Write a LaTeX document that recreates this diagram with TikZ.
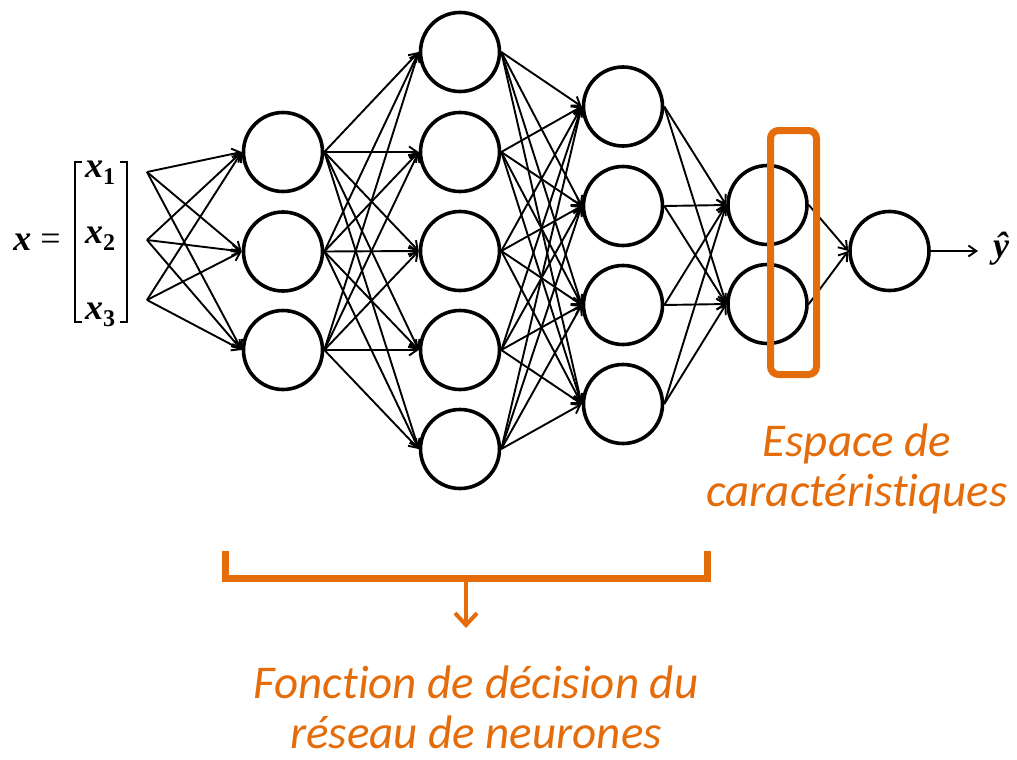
\documentclass[tikz,border=0pt]{standalone}
\usepackage{fontspec}
\newfontfamily\calibri{Carlito}[Ligatures=NoCommon]
\newfontfamily\mserif{Liberation Serif}
\usetikzlibrary{arrows.meta}
\definecolor{orng}{HTML}{E46C0A}
\newcommand{\vx}[1]{{\bfseries\itshape x}\raisebox{-7pt}{\fontsize{24}{26}\selectfont\bfseries #1}}
\begin{document}
\begin{tikzpicture}[x=1pt,y=-1pt,
  neuron/.style={circle,draw,line width=3.6pt,minimum size=79pt,inner sep=0pt},
  edge/.style={line width=1.9pt,-{Straight Barb[length=8pt,width=11pt]}},
  mth/.style={font=\mserif\fontsize{36}{40}\selectfont,inner sep=0pt,anchor=base},
  brk/.style={line width=1.6pt},
  otext/.style={font=\calibri\itshape\fontsize{47}{49.5}\selectfont,text=orng,align=center,inner sep=0pt,anchor=base}]
\useasboundingbox (0,0) rectangle (1017,760);

% input vector
\node[mth] (xeq) at (37,250) {{\bfseries\itshape x} =};
\node[mth] (x1) at (100,177) {\vx{1}};
\node[mth] (x2) at (100,243) {\vx{2}};
\node[mth] (x3) at (100,319) {\vx{3}};
\draw[brk] (82,162) -- (75,162) -- (75,322) -- (82,322);
\draw[brk] (120,162) -- (127,162) -- (127,322) -- (120,322);
\coordinate (i1) at (147,172);
\coordinate (i2) at (147,240);
\coordinate (i3) at (147,300);

% neurons
\node[neuron] (a1) at (283,152) {};
\node[neuron] (a2) at (283,251.5) {};
\node[neuron] (a3) at (283,350) {};
\node[neuron] (b1) at (460,52) {};
\node[neuron] (b2) at (460,152) {};
\node[neuron] (b3) at (460,251) {};
\node[neuron] (b4) at (460,350) {};
\node[neuron] (b5) at (460,449) {};
\node[neuron] (c1) at (623,106.5) {};
\node[neuron] (c2) at (623,206) {};
\node[neuron] (c3) at (623,305) {};
\node[neuron] (c4) at (623,404) {};
\node[neuron] (d1) at (767.5,205) {};
\node[neuron] (d2) at (767.5,304) {};
\node[neuron] (o) at (889.5,251) {};

% connections
\foreach \i in {1,2,3}{\foreach \j in {1,2,3}{\draw[edge] (i\i) -- (a\j.west);}}
\foreach \i in {1,2,3}{\foreach \j in {1,...,5}{\draw[edge] (a\i.east) -- (b\j.west);}}
\foreach \i in {1,...,5}{\foreach \j in {1,...,4}{\draw[edge] (b\i.east) -- (c\j.west);}}
\foreach \i in {1,...,4}{\foreach \j in {1,2}{\draw[edge] (c\i.east) -- (d\j.west);}}
\foreach \i in {1,2}{\draw[edge] (d\i.east) -- (o.west);}
\coordinate (yend) at (978,251);
\draw[edge] (o.east) -- (yend);
\node[mth] (yhat) at (1001,257) {\bfseries\itshape ŷ};

% feature-space box
\draw[orng,line width=7pt,rounded corners=8pt] (770.5,130.5) rectangle (816.5,374.5);

% bracket
\coordinate (bl) at (225,551);
\coordinate (br) at (707,551);
\coordinate (bmid) at (466,578);
\coordinate (btip) at (466,628);
\draw[orng,line width=7pt] (bl) -- (225,578) -- (707,578) -- (br);
\draw[orng,line width=4pt,-{Straight Barb[length=12pt,width=22pt]}] (bmid) -- (btip);

% labels
\node[otext] (esp) at (857,506) {Espace de\\caractéristiques};
\node[otext] (fdd) at (476,748) {Fonction de décision du\\réseau de neurones};
\end{tikzpicture}
\end{document}
